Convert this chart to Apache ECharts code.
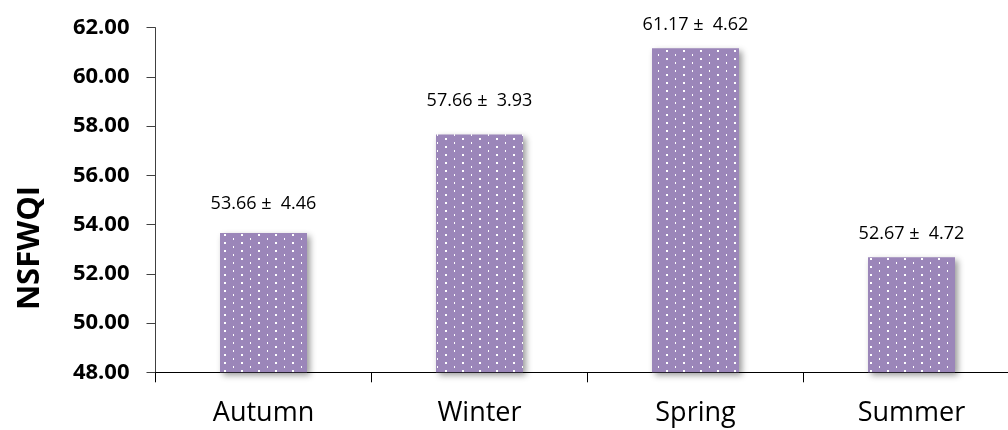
<!DOCTYPE html>
<html>
<head>
<meta charset="utf-8">
<script src="https://cdn.jsdelivr.net/npm/echarts@6/dist/echarts.min.js"></script>
<style>
html,body{margin:0;padding:0;background:#fff;}
#chart{width:1008px;height:430px;}
</style>
</head>
<body>
<div id="chart"></div>
<script>
const categories = ['Autumn', 'Winter', 'Spring', 'Summer'];
const means = [53.66, 57.66, 61.17, 52.67];
const sds = [4.46, 3.93, 4.62, 4.72];
const yMin = 48, yMax = 62, yStep = 2;
const axisName = 'NSFWQI';
const labelGaps = [20, 25, 14, 14];

function makePattern() {
  const c = document.createElement('canvas');
  c.width = 17; c.height = 8;
  const ctx = c.getContext('2d');
  ctx.fillStyle = '#9b86b9';
  ctx.fillRect(0, 0, 17, 8);
  ctx.fillStyle = '#ffffff';
  ctx.fillRect(3, 2, 2, 2);
  ctx.fillRect(12, 6, 1, 2);
  return c;
}
const pat = makePattern();

const chart = echarts.init(document.getElementById('chart'), null, {renderer: 'canvas'});
chart.setOption({
  animation: false,
  grid: {left: 155.5, right: -11.5, top: 27.7, bottom: 57.7, containLabel: false, outerBoundsMode: 'none'},
  xAxis: {
    type: 'category',
    data: categories,
    axisLine: {lineStyle: {color: '#000', width: 1}},
    axisTick: {show: true, length: 10, lineStyle: {color: '#000'}},
    axisLabel: {color: '#000', fontFamily: 'Open Sans', fontSize: 27, margin: 28}
  },
  yAxis: {
    type: 'value',
    min: yMin, max: yMax, interval: yStep,
    splitLine: {show: false},
    axisLine: {show: true, lineStyle: {color: '#404040', width: 1}},
    axisTick: {show: true, length: 9, lineStyle: {color: '#404040'}},
    axisLabel: {color: '#000', fontFamily: 'Open Sans', fontWeight: 'bold', fontSize: 22, margin: 26,
      formatter: v => v.toFixed(2)}
  },
  graphic: [{
    type: 'text',
    x: 30, y: 248,
    rotation: Math.PI / 2,
    style: {text: axisName, fill: '#000', font: 'bold 31px "Open Sans"', align: 'center', verticalAlign: 'middle'}
  }],
  series: [{
    type: 'bar',
    barWidth: 87,
    data: means.map((m, i) => ({
      value: m,
      label: {
        show: true, position: 'top', distance: labelGaps[i],
        formatter: () => m.toFixed(2) + ' \u00b1  ' + sds[i].toFixed(2),
        color: '#000', fontFamily: 'Open Sans', fontSize: 18
      }
    })),
    itemStyle: {
      color: {image: pat, repeat: 'repeat'},
      shadowBlur: 6, shadowOffsetX: 3, shadowOffsetY: 3, shadowColor: 'rgba(0,0,0,0.4)'
    }
  }]
});
</script>
</body>
</html>
